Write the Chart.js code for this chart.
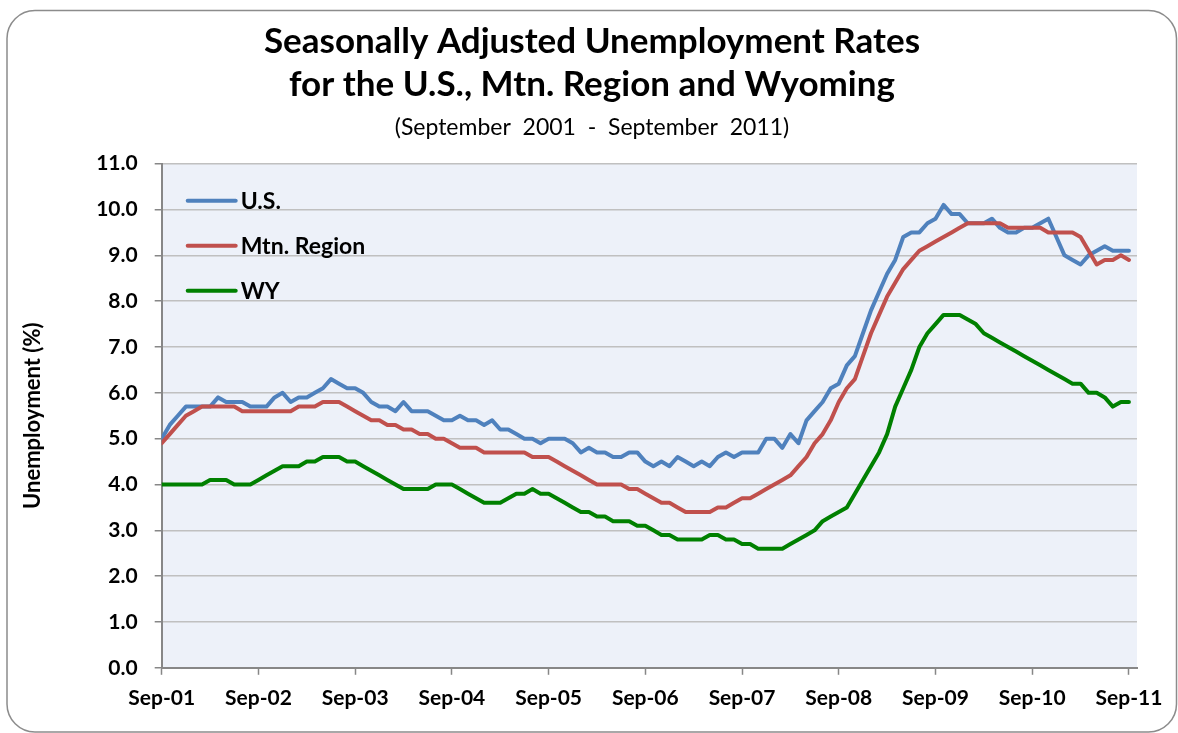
<!DOCTYPE html>
<html>
<head>
<meta charset="utf-8">
<title>Unemployment Rates</title>
<script src="https://cdn.jsdelivr.net/npm/chart.js@4/dist/chart.umd.min.js"></script>
<style>
  body { margin: 0; background: #fff; }
  canvas { display: block; }
</style>
</head>
<body>
<canvas id="myChart" width="1178" height="733"></canvas>
<script>
// x axis labels, one every 12 months (Sep-01 .. Sep-11)
var tickLabels = ['Sep-01', 'Sep-02', 'Sep-03', 'Sep-04', 'Sep-05', 'Sep-06',
                  'Sep-07', 'Sep-08', 'Sep-09', 'Sep-10', 'Sep-11'];

var seriesNames = ['U.S.', 'Mtn. Region', 'WY'];

// monthly rates, Sep 2001 .. Sep 2011 (121 months)
var us = [
  5.0, 5.3, 5.5, 5.7,
  5.7, 5.7, 5.7, 5.9, 5.8, 5.8, 5.8, 5.7, 5.7, 5.7, 5.9, 6.0,
  5.8, 5.9, 5.9, 6.0, 6.1, 6.3, 6.2, 6.1, 6.1, 6.0, 5.8, 5.7,
  5.7, 5.6, 5.8, 5.6, 5.6, 5.6, 5.5, 5.4, 5.4, 5.5, 5.4, 5.4,
  5.3, 5.4, 5.2, 5.2, 5.1, 5.0, 5.0, 4.9, 5.0, 5.0, 5.0, 4.9,
  4.7, 4.8, 4.7, 4.7, 4.6, 4.6, 4.7, 4.7, 4.5, 4.4, 4.5, 4.4,
  4.6, 4.5, 4.4, 4.5, 4.4, 4.6, 4.7, 4.6, 4.7, 4.7, 4.7, 5.0,
  5.0, 4.8, 5.1, 4.9, 5.4, 5.6, 5.8, 6.1, 6.2, 6.6, 6.8, 7.3,
  7.8, 8.2, 8.6, 8.9, 9.4, 9.5, 9.5, 9.7, 9.8, 10.1, 9.9, 9.9,
  9.7, 9.7, 9.7, 9.8, 9.6, 9.5, 9.5, 9.6, 9.6, 9.7, 9.8, 9.4,
  9.0, 8.9, 8.8, 9.0, 9.1, 9.2, 9.1, 9.1, 9.1
];

var mtn = [
  4.9, 5.1, 5.3, 5.5,
  5.6, 5.7, 5.7, 5.7, 5.7, 5.7, 5.6, 5.6, 5.6, 5.6, 5.6, 5.6,
  5.6, 5.7, 5.7, 5.7, 5.8, 5.8, 5.8, 5.7, 5.6, 5.5, 5.4, 5.4,
  5.3, 5.3, 5.2, 5.2, 5.1, 5.1, 5.0, 5.0, 4.9, 4.8, 4.8, 4.8,
  4.7, 4.7, 4.7, 4.7, 4.7, 4.7, 4.6, 4.6, 4.6, 4.5, 4.4, 4.3,
  4.2, 4.1, 4.0, 4.0, 4.0, 4.0, 3.9, 3.9, 3.8, 3.7, 3.6, 3.6,
  3.5, 3.4, 3.4, 3.4, 3.4, 3.5, 3.5, 3.6, 3.7, 3.7, 3.8, 3.9,
  4.0, 4.1, 4.2, 4.4, 4.6, 4.9, 5.1, 5.4, 5.8, 6.1, 6.3, 6.8,
  7.3, 7.7, 8.1, 8.4, 8.7, 8.9, 9.1, 9.2, 9.3, 9.4, 9.5, 9.6,
  9.7, 9.7, 9.7, 9.7, 9.7, 9.6, 9.6, 9.6, 9.6, 9.6, 9.5, 9.5,
  9.5, 9.5, 9.4, 9.1, 8.8, 8.9, 8.9, 9.0, 8.9
];

var wy = [
  4.0, 4.0, 4.0, 4.0,
  4.0, 4.0, 4.1, 4.1, 4.1, 4.0, 4.0, 4.0, 4.1, 4.2, 4.3, 4.4,
  4.4, 4.4, 4.5, 4.5, 4.6, 4.6, 4.6, 4.5, 4.5, 4.4, 4.3, 4.2,
  4.1, 4.0, 3.9, 3.9, 3.9, 3.9, 4.0, 4.0, 4.0, 3.9, 3.8, 3.7,
  3.6, 3.6, 3.6, 3.7, 3.8, 3.8, 3.9, 3.8, 3.8, 3.7, 3.6, 3.5,
  3.4, 3.4, 3.3, 3.3, 3.2, 3.2, 3.2, 3.1, 3.1, 3.0, 2.9, 2.9,
  2.8, 2.8, 2.8, 2.8, 2.9, 2.9, 2.8, 2.8, 2.7, 2.7, 2.6, 2.6,
  2.6, 2.6, 2.7, 2.8, 2.9, 3.0, 3.2, 3.3, 3.4, 3.5, 3.8, 4.1,
  4.4, 4.7, 5.1, 5.7, 6.1, 6.5, 7.0, 7.3, 7.5, 7.7, 7.7, 7.7,
  7.6, 7.5, 7.3, 7.2, 7.1, 7.0, 6.9, 6.8, 6.7, 6.6, 6.5, 6.4,
  6.3, 6.2, 6.2, 6.0, 6.0, 5.9, 5.7, 5.8, 5.8
];

function toPoints(arr) {
  return arr.map(function (v, i) { return { x: i, y: v }; });
}

Chart.defaults.font.family = 'Lato, "Open Sans", sans-serif';
Chart.defaults.color = '#000';

// white page, rounded frame and light blue plot area
var frame = {
  id: 'frame',
  beforeDraw: function (chart) {
    var ctx = chart.ctx, a = chart.chartArea;
    ctx.save();
    ctx.fillStyle = '#fff';
    ctx.fillRect(0, 0, chart.width, chart.height);
    ctx.strokeStyle = '#8c8c8c';
    ctx.lineWidth = 1.5;
    ctx.beginPath();
    ctx.roundRect(7, 10.5, 1169.5, 721.5, 28);
    ctx.stroke();
    ctx.fillStyle = '#edf1f9';
    ctx.fillRect(a.left, a.top, a.right - a.left, a.bottom - a.top);
    ctx.restore();
  }
};

// legend sitting inside the plot, top left
var insideLegend = {
  id: 'insideLegend',
  afterDraw: function (chart) {
    var ctx = chart.ctx, a = chart.chartArea;
    ctx.save();
    ctx.font = 'bold 23px Lato';
    ctx.textBaseline = 'middle';
    chart.data.datasets.forEach(function (ds, i) {
      var y = a.top + 37 + i * 45;
      ctx.strokeStyle = ds.borderColor;
      ctx.lineWidth = 4;
      ctx.lineCap = 'round';
      ctx.beginPath();
      ctx.moveTo(a.left + 26, y);
      ctx.lineTo(a.left + 74, y);
      ctx.stroke();
      ctx.fillStyle = '#000';
      ctx.fillText(ds.label, a.left + 79, y + 1);
    });
    ctx.restore();
  }
};

var ctx = document.getElementById('myChart').getContext('2d');
var chart = new Chart(ctx, {
  type: 'line',
  data: {
    datasets: [{
      label: seriesNames[0],
      data: toPoints(us),
      borderColor: '#4f81bd',
      order: 3
    }, {
      label: seriesNames[1],
      data: toPoints(mtn),
      borderColor: '#c0504d',
      order: 2
    }, {
      label: seriesNames[2],
      data: toPoints(wy),
      borderColor: '#008000',
      order: 1
    }]
  },
  options: {
    responsive: false,
    animation: false,
    devicePixelRatio: 1,
    // left padding keeps the title centred like the original
    layout: { padding: { left: 47, right: 41, top: 0, bottom: 11 } },
    elements: {
      point: { radius: 0 },
      line: { borderWidth: 4, tension: 0, borderJoinStyle: 'round', borderCapStyle: 'round' }
    },
    plugins: {
      legend: { display: false },
      tooltip: { enabled: false },
      title: {
        display: true,
        text: ['Seasonally Adjusted Unemployment Rates', 'for the U.S., Mtn. Region and Wyoming'],
        font: { size: 35, weight: 'bold', lineHeight: 1.23 },
        color: '#000',
        padding: { top: 20, bottom: 0 }
      },
      subtitle: {
        display: true,
        text: '(September  2001  -  September  2011)',
        font: { size: 23, weight: 'normal' },
        color: '#000',
        padding: { top: 8, bottom: 22 }
      }
    },
    scales: {
      x: {
        type: 'linear',
        min: 0,
        max: 121,
        grid: { drawOnChartArea: false, tickLength: 7, tickColor: '#878787', tickWidth: 1.5 },
        border: { color: '#878787', width: 2 },
        ticks: {
          stepSize: 12,
          includeBounds: false,
          autoSkip: false,
          maxRotation: 0,
          padding: 11,
          font: { size: 21, weight: 'bold' },
          callback: function (v) { return tickLabels[v / 12]; }
        }
      },
      y: {
        min: 0,
        max: 11,
        afterFit: function (scale) { scale.width = 114.7; },
        grid: { color: '#c0c0c0', lineWidth: 1.5, tickLength: 7, tickColor: '#878787', tickWidth: 1.5 },
        border: { color: '#878787', width: 2 },
        ticks: {
          stepSize: 1,
          padding: 17,
          font: { size: 21, weight: 'bold' },
          callback: function (v) { return v.toFixed(1); }
        },
        title: {
          display: true,
          text: 'Unemployment (%)',
          font: { size: 22, weight: 'bold' },
          padding: { top: -27, bottom: 0 }
        }
      }
    }
  },
  plugins: [frame, insideLegend]
});
</script>
</body>
</html>
